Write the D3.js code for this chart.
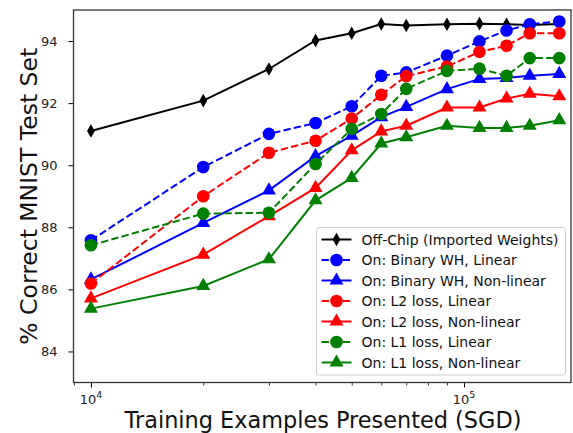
<!DOCTYPE html>
<html>
<head>
<meta charset="utf-8">
<script src="https://cdn.jsdelivr.net/npm/d3@7"></script>
<style>
  body { margin: 0; background: #fff; }
  svg { display: block; font-family: "DejaVu Sans", sans-serif; }
</style>
</head>
<body>
<div class="chart"></div>
<script>
// training examples (x) and accuracy per configuration (y)
const examples = [1e4, 2e4, 3e4, 4e4, 5e4, 6e4, 7e4, 9e4, 1.1e5, 1.3e5, 1.5e5, 1.8e5];
const offChip   = [91.1, 92.08, 93.1, 94.02, 94.25, 94.55, 94.5, 94.54, 94.56, 94.54, 94.52, 94.55];
const binaryLin = [87.58, 89.94, 91.01, 91.36, 91.9, 92.88, 92.99, 93.53, 93.99, 94.34, 94.54, 94.63];
const binaryNon = [86.32, 88.14, 89.19, 90.29, 90.95, 91.55, 91.88, 92.45, 92.78, 92.81, 92.88, 92.94];
const l2Lin     = [86.19, 89.0, 90.4, 90.79, 91.5, 92.27, 92.87, 93.18, 93.65, 93.85, 94.25, 94.25];
const l2Non     = [85.71, 87.12, 88.36, 89.27, 90.48, 91.09, 91.27, 91.86, 91.86, 92.15, 92.3, 92.22];
const l1Lin     = [87.42, 88.44, 88.47, 90.04, 91.17, 91.65, 92.46, 93.04, 93.11, 92.88, 93.45, 93.45];
const l1Non     = [85.38, 86.11, 86.97, 88.87, 89.59, 90.7, 90.9, 91.27, 91.2, 91.2, 91.27, 91.45];

const labels = [
    "Off-Chip (Imported Weights)",
    "On: Binary WH, Linear",
    "On: Binary WH, Non-linear",
    "On: L2 loss, Linear",
    "On: L2 loss, Non-linear",
    "On: L1 loss, Linear",
    "On: L1 loss, Non-linear"
];
const yTicks = [84, 86, 88, 90, 92, 94];

const series = [
    { name: labels[0], values: offChip,   color: "#000000", dash: null,      marker: "diamond" },
    { name: labels[1], values: binaryLin, color: "#0000ff", dash: "7.4,3.2", marker: "circle" },
    { name: labels[2], values: binaryNon, color: "#0000ff", dash: null,      marker: "triangle" },
    { name: labels[3], values: l2Lin,     color: "#ff0000", dash: "7.4,3.2", marker: "circle" },
    { name: labels[4], values: l2Non,     color: "#ff0000", dash: null,      marker: "triangle" },
    { name: labels[5], values: l1Lin,     color: "#008000", dash: "7.4,3.2", marker: "circle" },
    { name: labels[6], values: l1Non,     color: "#008000", dash: null,      marker: "triangle" }
];

const width = 573;
const height = 433;
const margin = { top: 10, right: 2, bottom: 50.5, left: 73.5 };

const svg = d3.select("div.chart")
    .append("svg")
    .attr("width", width)
    .attr("height", height);

const x = d3.scaleLog()
    .domain([8980, 193500])
    .range([margin.left, width - margin.right]);

const y = d3.scaleLinear()
    .domain([83, 95])
    .range([height - margin.bottom, margin.top]);

// axes
const xAxis = svg.append("g")
    .attr("transform", `translate(0,${height - margin.bottom})`)
    .call(d3.axisBottom(x).tickValues([1e4, 1e5]).tickSize(5).tickFormat(""));
xAxis.select(".domain").remove();
xAxis.selectAll("line").attr("stroke", "#000").attr("stroke-width", 1);

// minor ticks on the log axis
const minor = [];
for (let d = 1e3; d <= 1e6; d *= 10) {
    for (let k = 2; k <= 9; k++) {
        const v = d * k;
        if (v >= x.domain()[0] && v <= x.domain()[1]) minor.push(v);
    }
}
svg.append("g")
    .attr("transform", `translate(0,${height - margin.bottom})`)
    .call(d3.axisBottom(x).tickValues(minor).tickSize(3).tickFormat(""))
    .call(g => g.select(".domain").remove())
    .selectAll("line").attr("stroke", "#000").attr("stroke-width", 0.8);

// 10^n labels
[[1e4, "4"], [1e5, "5"]].forEach(([v, p]) => {
    const t = svg.append("text")
        .attr("x", x(v))
        .attr("y", height - margin.bottom + 21)
        .attr("text-anchor", "middle")
        .attr("font-size", 13)
        .attr("fill", "#222");
    t.append("tspan").text("10");
    t.append("tspan").attr("dy", -6).attr("font-size", 9.5).text(p);
});

const yAxis = svg.append("g")
    .attr("transform", `translate(${margin.left},0)`)
    .call(d3.axisLeft(y).tickValues(yTicks).tickSize(5).tickPadding(11));
yAxis.select(".domain").remove();
yAxis.selectAll("line").attr("stroke", "#000");
yAxis.selectAll("text")
    .attr("font-size", 13)
    .attr("fill", "#222")
    .attr("font-family", "DejaVu Sans, sans-serif");

// frame
svg.append("rect")
    .attr("x", margin.left)
    .attr("y", margin.top)
    .attr("width", width - margin.right - margin.left)
    .attr("height", height - margin.bottom - margin.top)
    .attr("fill", "none")
    .attr("stroke", "#333")
    .attr("stroke-width", 1.3);

// markers
function markerPath(type) {
    if (type === "circle") return d3.symbol(d3.symbolCircle, 125)();
    if (type === "triangle") return d3.symbol(d3.symbolTriangle, 85)();
    return "M0,-6.8L3.9,0L0,6.8L-3.9,0Z";
}

const line = d3.line()
    .x((d, i) => x(examples[i]))
    .y(d => y(d));

const plot = svg.append("g");

series.forEach(s => {
    const g = plot.append("g");
    g.append("path")
        .attr("d", line(s.values))
        .attr("fill", "none")
        .attr("stroke", s.color)
        .attr("stroke-width", 2)
        .attr("stroke-dasharray", s.dash);
    g.selectAll("path.mark")
        .data(s.values)
        .enter()
        .append("path")
        .attr("class", "mark")
        .attr("d", markerPath(s.marker))
        .attr("transform", (d, i) => `translate(${x(examples[i])},${y(d)})`)
        .attr("fill", s.color);
});

// axis titles
svg.append("text")
    .attr("x", 323)
    .attr("y", 428)
    .attr("text-anchor", "middle")
    .attr("font-size", 22.4)
    .attr("fill", "#111")
    .text("Training Examples Presented (SGD)");

svg.append("text")
    .attr("transform", `translate(37,${(margin.top + height - margin.bottom) / 2}) rotate(-90)`)
    .attr("text-anchor", "middle")
    .attr("font-size", 23.5)
    .attr("fill", "#111")
    .text("% Correct MNIST Test Set");

// legend
const lx = 316.5, ly = 227.5, rowH = 20.5;
const legend = svg.append("g");
legend.append("rect")
    .attr("x", lx)
    .attr("y", ly)
    .attr("width", 249)
    .attr("height", 147.5)
    .attr("rx", 3)
    .attr("fill", "#fff")
    .attr("fill-opacity", 0.85)
    .attr("stroke", "#cccccc");

series.forEach((s, i) => {
    const cy = ly + 12 + i * rowH;
    const row = legend.append("g");
    row.append("line")
        .attr("x1", lx + 5).attr("x2", lx + 35)
        .attr("y1", cy).attr("y2", cy)
        .attr("stroke", s.color)
        .attr("stroke-width", 2)
        .attr("stroke-dasharray", s.dash);
    row.append("path")
        .attr("d", markerPath(s.marker))
        .attr("transform", `translate(${lx + 20},${cy})`)
        .attr("fill", s.color);
    row.append("text")
        .attr("x", lx + 45)
        .attr("y", cy + 5)
        .attr("font-size", 14)
        .attr("fill", "#111")
        .text(s.name);
});
</script>
</body>
</html>
